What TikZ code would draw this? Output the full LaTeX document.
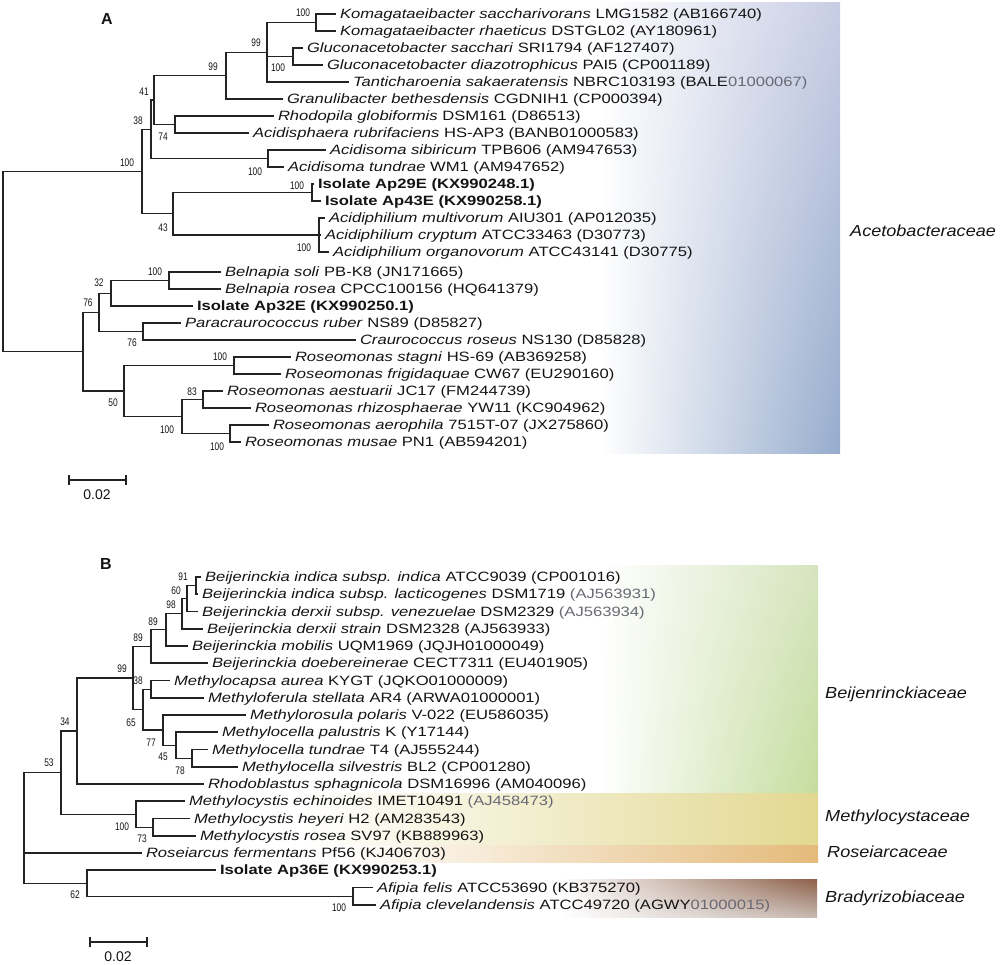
\documentclass[tikz,border=0pt]{standalone}
\usepackage{fontspec}
\setmainfont{Liberation Sans}
\newfontfamily\leaffont{Liberation Sans}[FakeStretch=1.23]
\newfontfamily\bootfont{Liberation Sans}[FakeStretch=0.76]
\newfontfamily\famfont{Liberation Sans}[FakeStretch=1.13]
\usetikzlibrary{shadings}
\definecolor{treec}{RGB}{35,35,35}
\definecolor{txt}{RGB}{20,20,20}
\definecolor{txtgray}{RGB}{105,105,115}
\definecolor{aceTR}{RGB}{200,205,228}
\definecolor{aceBR}{RGB}{150,172,205}
\definecolor{beiTR}{RGB}{214,228,190}
\definecolor{beiBR}{RGB}{196,221,158}
\definecolor{mcyR}{RGB}{226,216,145}
\definecolor{rosR}{RGB}{228,186,122}
\definecolor{braTR}{RGB}{140,95,72}
\definecolor{braBR}{RGB}{198,184,176}
\begin{document}
\begin{tikzpicture}[x=1pt,y=-1pt,
  br/.style={line width=1.1pt,draw=treec},
  leaf/.style={anchor=west,inner xsep=4pt,inner ysep=0pt,outer sep=0pt,text height=9.7pt,text depth=0pt,text=txt,font=\leaffont\fontsize{13.5pt}{13.5pt}\selectfont},
  boot/.style={inner sep=0pt,text=txt,font=\bootfont\fontsize{11pt}{11pt}\selectfont},
  fam/.style={anchor=west,inner sep=0pt,text height=11.5pt,text depth=0pt,text=txt,font=\famfont\itshape\fontsize{16pt}{16pt}\selectfont},
  panel/.style={inner sep=0pt,text=txt,font=\bfseries\fontsize{16pt}{16pt}\selectfont},
  scal/.style={inner sep=0pt,text=txt,font=\fontsize{14pt}{14pt}\selectfont}]
\useasboundingbox (0,0) rectangle (1000,964);
% ---------- family backgrounds ----------
\shade[upper left=white,lower left=white,upper right=aceTR,lower right=aceBR] (600,2) rectangle (840,453);
\shade[upper left=white,lower left=white,upper right=beiTR,lower right=beiBR] (600,565) rectangle (818,793);
\shade[upper left=white,lower left=white,upper right=mcyR,lower right=mcyR] (300,793) rectangle (818,845);
\shade[upper left=white,lower left=white,upper right=rosR,lower right=rosR] (340,845) rectangle (818,862);
\shade[upper left=white,lower left=white,upper right=braTR,lower right=braBR] (560,879) rectangle (817,917);
% ---------- panel A leaves ----------
\node[leaf] (a1) at (336,14) {\textit{Komagataeibacter saccharivorans} LMG1582 (AB166740)};
\node[leaf] (a2) at (336,31) {\textit{Komagataeibacter rhaeticus} DSTGL02 (AY180961)};
\node[leaf] (a3) at (303,48) {\textit{Gluconacetobacter sacchari} SRI1794 (AF127407)};
\node[leaf] (a4) at (323,65) {\textit{Gluconacetobacter diazotrophicus} PAI5 (CP001189)};
\node[leaf] (a5) at (349,82) {\textit{Tanticharoenia sakaeratensis} NBRC103193 (BALE{\color{txtgray}01000067)}};
\node[leaf] (a6) at (283,99) {\textit{Granulibacter bethesdensis} CGDNIH1 (CP000394)};
\node[leaf] (a7) at (274,116) {\textit{Rhodopila globiformis} DSM161 (D86513)};
\node[leaf] (a8) at (249,133) {\textit{Acidisphaera rubrifaciens} HS-AP3 (BANB01000583)};
\node[leaf] (a9) at (326,150) {\textit{Acidisoma sibiricum} TPB606 (AM947653)};
\node[leaf] (a10) at (284,167) {\textit{Acidisoma tundrae} WM1 (AM947652)};
\node[leaf] (a11) at (314,184) {\textbf{Isolate Ap29E (KX990248.1)}};
\node[leaf] (a12) at (321,201) {\textbf{Isolate Ap43E (KX990258.1)}};
\node[leaf] (a13) at (325,218) {\textit{Acidiphilium multivorum} AIU301 (AP012035)};
\node[leaf] (a14) at (321,235) {\textit{Acidiphilium cryptum} ATCC33463 (D30773)};
\node[leaf] (a15) at (329,252) {\textit{Acidiphilium organovorum} ATCC43141 (D30775)};
\node[leaf] (a16) at (221,272) {\textit{Belnapia soli} PB-K8 (JN171665)};
\node[leaf] (a17) at (221,289) {\textit{Belnapia rosea} CPCC100156 (HQ641379)};
\node[leaf] (a18) at (193,306) {\textbf{Isolate Ap32E (KX990250.1)}};
\node[leaf] (a19) at (181,323) {\textit{Paracraurococcus ruber} NS89 (D85827)};
\node[leaf] (a20) at (356,340) {\textit{Craurococcus roseus} NS130 (D85828)};
\node[leaf] (a21) at (291,357) {\textit{Roseomonas stagni} HS-69 (AB369258)};
\node[leaf] (a22) at (281,374) {\textit{Roseomonas frigidaquae} CW67 (EU290160)};
\node[leaf] (a23) at (223,391) {\textit{Roseomonas aestuarii} JC17 (FM244739)};
\node[leaf] (a24) at (251,408) {\textit{Roseomonas rhizosphaerae} YW11 (KC904962)};
\node[leaf] (a25) at (269,425) {\textit{Roseomonas aerophila} 7515T-07 (JX275860)};
\node[leaf] (a26) at (241,442) {\textit{Roseomonas musae} PN1 (AB594201)};
% ---------- panel A internal nodes ----------
\coordinate (nK) at (316,22.5);
\coordinate (nG) at (293,56.5);
\coordinate (n99a) at (267,52.25);
\coordinate (n99b) at (226,75.6);
\coordinate (nR) at (175,124.5);
\coordinate (n41) at (154,100);
\coordinate (nAs) at (268,158.5);
\coordinate (n38) at (151,129.3);
\coordinate (nIso) at (312,192.5);
\coordinate (nAc) at (319,235);
\coordinate (n43) at (173,213.8);
\coordinate (n100) at (142,171.5);
\coordinate (nBe) at (169,280.5);
\coordinate (n32) at (111,293.3);
\coordinate (nPa) at (143,331.5);
\coordinate (n76) at (99,312.4);
\coordinate (nRs) at (234,365.5);
\coordinate (nR83) at (203,399.5);
\coordinate (nRa) at (230,433.5);
\coordinate (nR100) at (182,416.5);
\coordinate (n50) at (124,391);
\coordinate (nLow) at (83,351.7);
\coordinate (rootA) at (3,261.6);
\foreach \p/\c in {nK/a1,nK/a2,nG/a3,nG/a4,n99a/nK,n99a/nG,n99a/a5,n99b/n99a,n99b/a6,
  nR/a7,nR/a8,n41/n99b,n41/nR,nAs/a9,nAs/a10,n38/n41,n38/nAs,nIso/a11,nIso/a12,
  nAc/a13,nAc/a14,nAc/a15,n43/nIso,n43/nAc,n100/n38,n100/n43,
  nBe/a16,nBe/a17,n32/nBe,n32/a18,nPa/a19,nPa/a20,n76/n32,n76/nPa,
  nRs/a21,nRs/a22,nR83/a23,nR83/a24,nRa/a25,nRa/a26,nR100/nR83,nR100/nRa,
  n50/nRs,n50/nR100,nLow/n76,nLow/n50,rootA/n100,rootA/nLow}
  \draw[br] (\p) |- (\c);
% ---------- panel A bootstrap ----------
\node[boot] (bA1) at (303,13) {100};
\node[boot] (bA2) at (256,43) {99};
\node[boot] (bA3) at (278,68) {100};
\node[boot] (bA4) at (213,67) {99};
\node[boot] (bA5) at (144,92) {41};
\node[boot] (bA6) at (138,121) {38};
\node[boot] (bA7) at (163,137) {74};
\node[boot] (bA8) at (127,163) {100};
\node[boot] (bA9) at (255,172) {100};
\node[boot] (bA10) at (297,186) {100};
\node[boot] (bA11) at (163,228) {43};
\node[boot] (bA12) at (304,248) {100};
\node[boot] (bA13) at (155,272) {100};
\node[boot] (bA14) at (99,283) {32};
\node[boot] (bA15) at (88,303) {76};
\node[boot] (bA16) at (132,343) {76};
\node[boot] (bA17) at (220,357) {100};
\node[boot] (bA18) at (192,392) {83};
\node[boot] (bA19) at (113,403) {50};
\node[boot] (bA20) at (167,430) {100};
\node[boot] (bA21) at (217,447) {100};
% ---------- panel A misc ----------
\node[panel] (pA) at (107,19) {A};
\node[fam] (fA) at (850,231) {Acetobacteraceae};
\coordinate (sA1) at (69,480);
\coordinate (sA2) at (126,480);
\draw[br] (sA1) -- (sA2);
\draw[br] ([yshift=5pt]sA1) -- ([yshift=-5pt]sA1);
\draw[br] ([yshift=5pt]sA2) -- ([yshift=-5pt]sA2);
\node[scal] (sAl) at (97,495) {0.02};
% ---------- panel B leaves ----------
\node[leaf] (b1) at (201,577) {\textit{Beijerinckia indica subsp. indica} ATCC9039 (CP001016)};
\node[leaf] (b2) at (198,594) {\textit{Beijerinckia indica subsp. lacticogenes} DSM1719 {\color{txtgray}(AJ563931)}};
\node[leaf] (b3) at (198,611.5) {\textit{Beijerinckia derxii subsp. venezuelae} DSM2329 {\color{txtgray}(AJ563934)}};
\node[leaf] (b4) at (203,629) {\textit{Beijerinckia derxii strain} DSM2328 (AJ563933)};
\node[leaf] (b5) at (188,646) {\textit{Beijerinckia mobilis} UQM1969 (JQJH01000049)};
\node[leaf] (b6) at (208,663) {\textit{Beijerinckia doebereinerae} CECT7311 (EU401905)};
\node[leaf] (b7) at (170,680.5) {\textit{Methylocapsa aurea} KYGT (JQKO01000009)};
\node[leaf] (b8) at (204,698) {\textit{Methyloferula stellata} AR4 (ARWA01000001)};
\node[leaf] (b9) at (246,715) {\textit{Methylorosula polaris} V-022 (EU586035)};
\node[leaf] (b10) at (218,732) {\textit{Methylocella palustris} K (Y17144)};
\node[leaf] (b11) at (208,749.5) {\textit{Methylocella tundrae} T4 (AJ555244)};
\node[leaf] (b12) at (238,767) {\textit{Methylocella silvestris} BL2 (CP001280)};
\node[leaf] (b13) at (204,784) {\textit{Rhodoblastus sphagnicola} DSM16996 (AM040096)};
\node[leaf] (b14) at (185,801) {\textit{Methylocystis echinoides} IMET10491 {\color{txtgray}(AJ458473)}};
\node[leaf] (b15) at (190,818.5) {\textit{Methylocystis heyeri} H2 (AM283543)};
\node[leaf] (b16) at (196,836) {\textit{Methylocystis rosea} SV97 (KB889963)};
\node[leaf] (b17) at (142,853) {\textit{Roseiarcus fermentans} Pf56 (KJ406703)};
\node[leaf] (b18) at (216,870) {\textbf{Isolate Ap36E (KX990253.1)}};
\node[leaf] (b19) at (373,887.5) {\textit{Afipia felis} ATCC53690 (KB375270)};
\node[leaf] (b20) at (376,905) {\textit{Afipia clevelandensis} ATCC49720 (AGWY{\color{txtgray}01000015)}};
% ---------- panel B internal nodes ----------
\coordinate (m91) at (196,585.5);
\coordinate (m60) at (187,598.5);
\coordinate (m98) at (182,613.8);
\coordinate (m89a) at (166,629.9);
\coordinate (m89b) at (151,646.4);
\coordinate (m38) at (151,689.3);
\coordinate (m78) at (192,758.3);
\coordinate (m45) at (176,745.1);
\coordinate (m77) at (163,730);
\coordinate (m65) at (143,709.6);
\coordinate (m99) at (133,678);
\coordinate (m34) at (77,731);
\coordinate (m73) at (153,827.3);
\coordinate (mM) at (136,814.1);
\coordinate (m53) at (61,772.6);
\coordinate (mAf) at (353,896.3);
\coordinate (m62) at (87,883.1);
\coordinate (rootB) at (24,827.9);
\foreach \p/\c in {m91/b1,m91/b2,m60/m91,m60/b3,m98/m60,m98/b4,m89a/m98,m89a/b5,
  m89b/m89a,m89b/b6,m38/b7,m38/b8,m78/b11,m78/b12,m45/b10,m45/m78,m77/b9,m77/m45,
  m65/m38,m65/m77,m99/m89b,m99/m65,m34/m99,m34/b13,m73/b15,m73/b16,mM/b14,mM/m73,
  m53/m34,m53/mM,mAf/b19,mAf/b20,m62/b18,m62/mAf,rootB/m53,rootB/b17,rootB/m62}
  \draw[br] (\p) |- (\c);
% ---------- panel B bootstrap ----------
\node[boot] (bB1) at (183,577) {91};
\node[boot] (bB2) at (176,591) {60};
\node[boot] (bB3) at (171,605) {98};
\node[boot] (bB4) at (153,622) {89};
\node[boot] (bB5) at (138,638) {89};
\node[boot] (bB6) at (122,669) {99};
\node[boot] (bB7) at (138,681) {38};
\node[boot] (bB8) at (131,723) {65};
\node[boot] (bB9) at (151,743) {77};
\node[boot] (bB10) at (163,757) {45};
\node[boot] (bB11) at (180,771) {78};
\node[boot] (bB12) at (65,722) {34};
\node[boot] (bB13) at (49,763) {53};
\node[boot] (bB14) at (122,827) {100};
\node[boot] (bB15) at (142,839) {73};
\node[boot] (bB16) at (75,895) {62};
\node[boot] (bB17) at (339,908) {100};
% ---------- panel B misc ----------
\node[panel] (pB) at (106,564) {B};
\node[fam] (fB1) at (825,693) {Beijenrinckiaceae};
\node[fam] (fB2) at (825,816) {Methylocystaceae};
\node[fam] (fB3) at (827,852) {Roseiarcaceae};
\node[fam] (fB4) at (825,897) {Bradyrizobiaceae};
\coordinate (sB1) at (90,942);
\coordinate (sB2) at (147,942);
\draw[br] (sB1) -- (sB2);
\draw[br] ([yshift=5pt]sB1) -- ([yshift=-5pt]sB1);
\draw[br] ([yshift=5pt]sB2) -- ([yshift=-5pt]sB2);
\node[scal] (sBl) at (118,957) {0.02};
\end{tikzpicture}
\end{document}
